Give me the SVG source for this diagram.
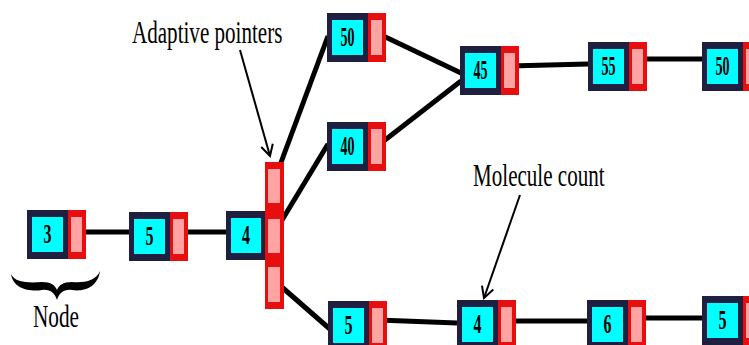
<svg xmlns="http://www.w3.org/2000/svg" xmlns:xlink="http://www.w3.org/1999/xlink" width="749" height="345" viewBox="0 0 749 345">
<style>
.dark{fill:#1f1f42}
.cyan{fill:#00ffff}
.red{fill:#e60e0e}
.pink{fill:#ffa3a3}
.num{font-weight:bold;font-size:27px;fill:#000;text-anchor:middle}
.lbl{font-size:31px;fill:#000}
.conn{stroke:#000;stroke-width:5;fill:none;stroke-linecap:butt}
.arr{stroke:#000;stroke-width:2;fill:none}
</style>
<defs>
<g id="cell">
<rect class="dark" x="0" y="0" width="41" height="49"/>
<rect class="cyan" x="5" y="7" width="31" height="35"/>
<rect class="red" x="41" y="0" width="18" height="49"/>
<rect class="pink" x="44" y="7" width="11" height="35"/>
</g>
<marker id="vhead" markerUnits="userSpaceOnUse" markerWidth="16" markerHeight="16" refX="13" refY="8" orient="auto" viewBox="0 0 16 16">
<path d="M2,2 L13,8 L2,14" fill="none" stroke="#000" stroke-width="2"/>
</marker>
</defs>
<rect width="749" height="345" fill="#fff"/>

<g id="connectors">
<line class="conn" x1="77" y1="232" x2="129" y2="232"/>
<line class="conn" x1="179" y1="232" x2="226" y2="232"/>
<line class="conn" x1="273" y1="184" x2="328" y2="36"/>
<line class="conn" x1="273" y1="235" x2="328" y2="144"/>
<line class="conn" x1="276" y1="282" x2="331" y2="330"/>
<line class="conn" x1="377" y1="33" x2="461" y2="73"/>
<line class="conn" x1="376" y1="147" x2="461" y2="81"/>
<line class="conn" x1="509" y1="66" x2="588" y2="64"/>
<line class="conn" x1="637" y1="59" x2="702" y2="59"/>
<line class="conn" x1="378" y1="320" x2="457" y2="323"/>
<line class="conn" x1="506" y1="321" x2="587" y2="321"/>
<line class="conn" x1="637" y1="318" x2="702" y2="318"/>
<line class="arr" x1="240" y1="50" x2="270" y2="156" marker-end="url(#vhead)"/>
<line class="arr" x1="520" y1="195" x2="484" y2="298" marker-end="url(#vhead)"/>
</g>

<g font-family="'Liberation Serif', 'Times New Roman', serif">
<g id="n3"><use xlink:href="#cell" x="27" y="210"/><text class="num" x="47.5" y="243" textLength="8" lengthAdjust="spacingAndGlyphs">3</text></g>
<g id="n5a"><use xlink:href="#cell" x="129" y="212"/><text class="num" x="149.5" y="245" textLength="8" lengthAdjust="spacingAndGlyphs">5</text></g>
<g id="n4"><rect class="dark" x="226" y="211" width="40" height="49"/><rect class="cyan" x="231" y="218" width="30" height="35"/><rect class="red" x="265" y="162" width="19" height="147"/><rect class="pink" x="268" y="169" width="12" height="34"/><rect class="pink" x="268" y="219" width="12" height="34"/><rect class="pink" x="268" y="267" width="12" height="35"/><text class="num" x="246" y="244" textLength="8" lengthAdjust="spacingAndGlyphs">4</text></g>
<g id="n50a"><use xlink:href="#cell" x="327" y="13"/><text class="num" x="347.5" y="46" textLength="14" lengthAdjust="spacingAndGlyphs">50</text></g>
<g id="n40"><use xlink:href="#cell" x="327" y="122"/><text class="num" x="347.5" y="155" textLength="14" lengthAdjust="spacingAndGlyphs">40</text></g>
<g id="n45"><use xlink:href="#cell" x="460" y="46"/><text class="num" x="480.5" y="79" textLength="14" lengthAdjust="spacingAndGlyphs">45</text></g>
<g id="n55"><use xlink:href="#cell" x="588" y="42"/><text class="num" x="608.5" y="75" textLength="14" lengthAdjust="spacingAndGlyphs">55</text></g>
<g id="n50b"><use xlink:href="#cell" x="702" y="42"/><text class="num" x="722.5" y="75" textLength="14" lengthAdjust="spacingAndGlyphs">50</text></g>
<g id="n5b"><use xlink:href="#cell" x="328" y="301"/><text class="num" x="348.5" y="334" textLength="8" lengthAdjust="spacingAndGlyphs">5</text></g>
<g id="n4b"><use xlink:href="#cell" x="457" y="300"/><text class="num" x="477.5" y="333" textLength="8" lengthAdjust="spacingAndGlyphs">4</text></g>
<g id="n6"><use xlink:href="#cell" x="587" y="300"/><text class="num" x="607.5" y="333" textLength="8" lengthAdjust="spacingAndGlyphs">6</text></g>
<g id="n5c"><use xlink:href="#cell" x="702" y="296"/><text class="num" x="722.5" y="329" textLength="8" lengthAdjust="spacingAndGlyphs">5</text></g>

<g id="labels">
<text class="lbl" transform="translate(132,43) scale(0.68,1)">Adaptive pointers</text>
<text class="lbl" transform="translate(473,186) scale(0.68,1)">Molecule count</text>
<text class="lbl" transform="translate(33,327) scale(0.686,1)">Node</text>
<path d="M11,274 C13,289 30,292 42,290 C50,289 55,293 57,300 C59,293 64,289 72,290 C84,292 98,287 100,271 C96,281 84,283 72,282 C63,282 59,285 57,290 C55,285 51,282 42,282 C30,283 15,283 11,274 Z" fill="#000"/>
</g>
</g>
</svg>
